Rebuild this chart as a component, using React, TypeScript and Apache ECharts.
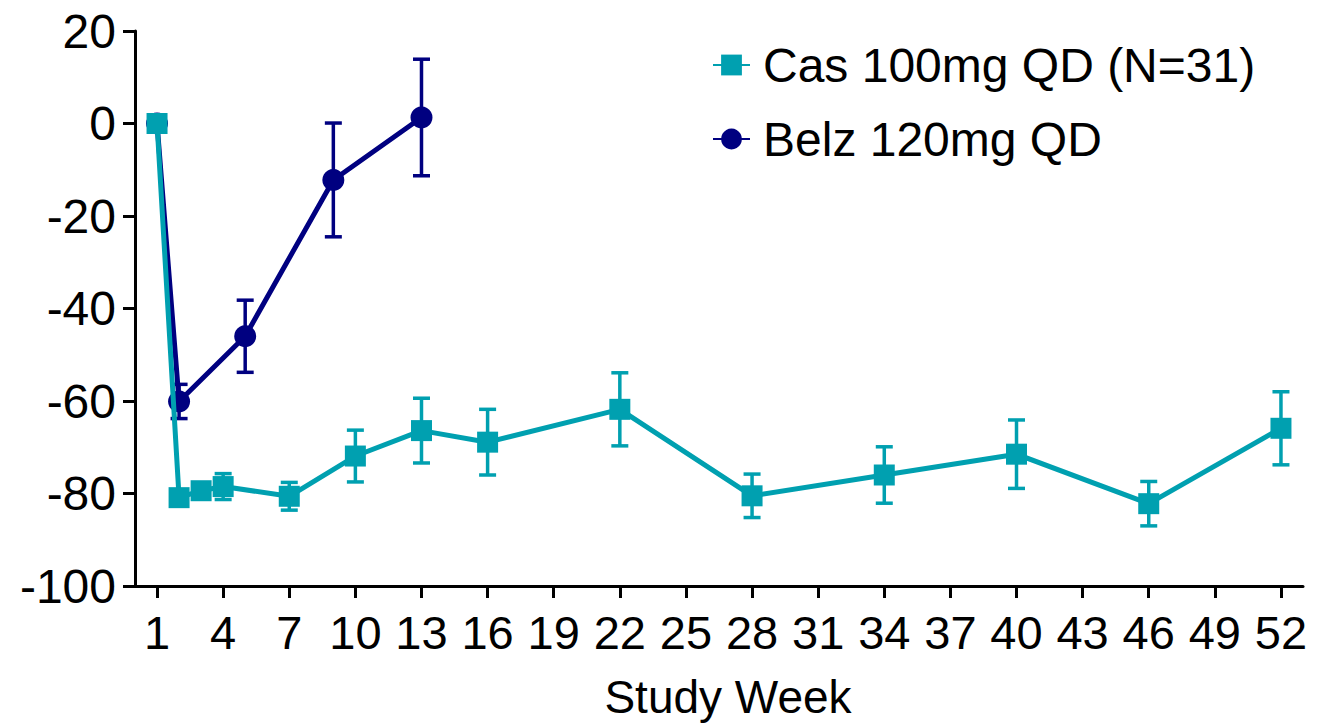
import React, { useEffect, useRef } from "react";
import * as echarts from "echarts";

const casWeeks = [1, 2, 3, 4, 7, 10, 13, 16, 22, 28, 34, 40, 46, 52];
const casMean = [0, -80.9, -79.4, -78.5, -80.6, -71.9, -66.4, -68.9, -61.8, -80.5, -76.0, -71.5, -82.2, -65.9];
const casErr = [0, 0.8, 1.5, 2.8, 3.0, 5.6, 7.0, 7.1, 7.9, 4.7, 6.1, 7.4, 4.8, 7.9];

const belzWeeks = [1, 2, 5, 9, 13];
const belzMean = [0, -60.1, -46.0, -12.2, 1.3];
const belzErr = [0, 3.7, 7.8, 12.3, 12.6];

const xTicks = [1, 4, 7, 10, 13, 16, 19, 22, 25, 28, 31, 34, 37, 40, 43, 46, 49, 52];

const CAS_NAME = "Cas 100mg QD (N=31)";
const BELZ_NAME = "Belz 120mg QD";
const TEAL = "#00A0B0";
const NAVY = "#000080";
const FONT = "'Liberation Sans', Arial, sans-serif";

function errSeries(name: string, weeks: number[], mean: number[], err: number[], color: string, z: number) {
  const data = weeks.map((w, i) => [w, mean[i] - err[i], mean[i] + err[i]]);
  return {
    type: "custom",
    name: name + " err",
    z,
    silent: true,
    data,
    encode: { x: 0, y: [1, 2] },
    renderItem: (_params: any, api: any) => {
      const x = api.value(0);
      const lo = api.coord([x, api.value(1)]);
      const hi = api.coord([x, api.value(2)]);
      const hw = 8.5;
      const style = { stroke: color, lineWidth: 3.5, fill: "none" };
      return {
        type: "group",
        children: [
          { type: "line", shape: { x1: lo[0], y1: lo[1], x2: hi[0], y2: hi[1] }, style },
          { type: "line", shape: { x1: lo[0] - hw, y1: lo[1], x2: lo[0] + hw, y2: lo[1] }, style },
          { type: "line", shape: { x1: hi[0] - hw, y1: hi[1], x2: hi[0] + hw, y2: hi[1] }, style },
        ],
      };
    },
  };
}

export default function App() {
  const ref = useRef<HTMLDivElement>(null);
  useEffect(() => {
    if (!ref.current) return;
    const chart = echarts.init(ref.current, undefined, { renderer: "svg" });
    const axisLine = { show: true, onZero: false, lineStyle: { color: "#000", width: 3 } };
    chart.setOption({
      animation: false,
      backgroundColor: "#fff",
      textStyle: { fontFamily: FONT },
      grid: { left: 135, right: 32, top: 31, bottom: 135 },
      legend: {
        data: [CAS_NAME, BELZ_NAME],
        orient: "vertical",
        left: 707,
        top: 35,
        itemWidth: 37,
        itemHeight: 26,
        itemGap: 24,
        textStyle: { fontSize: 48, lineHeight: 50, color: "#000", fontFamily: FONT, padding: [0, 0, 0, 8] },
      },
      xAxis: {
        type: "value",
        min: 0,
        max: 53,
        name: "Study Week",
        nameLocation: "middle",
        nameGap: 88,
        nameTextStyle: { fontSize: 46, color: "#000", fontFamily: FONT, padding: [0, 0, 0, 18] },
        axisLine,
        splitLine: { show: false },
        axisTick: { show: true, length: 12, lineStyle: { color: "#000", width: 3 }, customValues: xTicks },
        axisLabel: { fontSize: 47, color: "#000", margin: 23, fontFamily: FONT, customValues: xTicks },
      },
      yAxis: {
        type: "value",
        min: -100,
        max: 20,
        interval: 20,
        axisLine,
        splitLine: { show: false },
        axisTick: { show: true, length: 12, lineStyle: { color: "#000", width: 3 } },
        axisLabel: { fontSize: 48, color: "#000", margin: 19, fontFamily: FONT },
      },
      series: [
        errSeries(BELZ_NAME, belzWeeks, belzMean, belzErr, NAVY, 2),
        {
          type: "line",
          name: BELZ_NAME,
          z: 3,
          data: belzWeeks.map((w, i) => [w, belzMean[i]]),
          symbol: "circle",
          symbolSize: 22,
          itemStyle: { color: NAVY },
          lineStyle: { color: NAVY, width: 5 },
        },
        errSeries(CAS_NAME, casWeeks, casMean, casErr, TEAL, 4),
        {
          type: "line",
          name: CAS_NAME,
          z: 5,
          data: casWeeks.map((w, i) => [w, casMean[i]]),
          symbol: "rect",
          symbolSize: 21,
          itemStyle: { color: TEAL },
          lineStyle: { color: TEAL, width: 5 },
        },
      ],
    });
    return () => chart.dispose();
  }, []);
  return (
    <div
      ref={ref}
      style={{ position: "fixed", left: 0, top: 0, width: 1335, height: 725, background: "#fff" }}
    />
  );
}
